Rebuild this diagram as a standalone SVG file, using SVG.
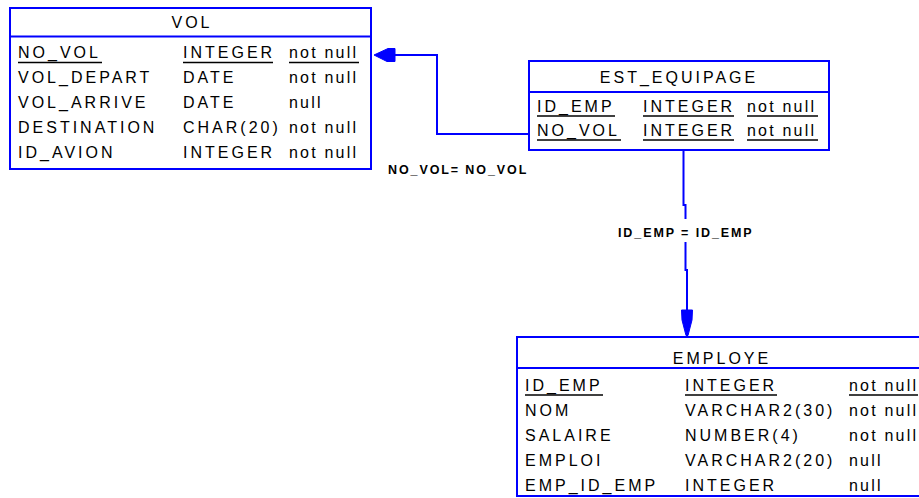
<svg xmlns="http://www.w3.org/2000/svg" width="919" height="498" viewBox="0 0 919 498">
<style>
.box{fill:#ffffff;stroke:#0000ff;stroke-width:2}
.sep{stroke:#0000ff;stroke-width:2}
.t{font-family:"Liberation Sans",Arial,sans-serif;font-size:16px;letter-spacing:3px;fill:#000000}
.n{letter-spacing:2.2px}
.h{text-anchor:middle}
.u{stroke:#000000;stroke-width:1.5}
.c{fill:none;stroke:#0000ff;stroke-width:2}
.a{fill:#0000ff;stroke:#0000ff;stroke-width:1}
.l{font-family:"Liberation Sans",Arial,sans-serif;font-size:12.5px;font-weight:bold;letter-spacing:1.9px;fill:#000000}
</style>
<rect width="919" height="498" fill="#ffffff"/>
<g id="connectors">
  <path class="c" d="M529,134 H437 V55 H393"/>
  <polygon class="a" points="374,55 388,48.5 395,48.5 395,61.5 387,61.5"/>
  <text class="l" x="388" y="174">NO_VOL= NO_VOL</text>
  <path class="c" d="M683.5,150 V205 H685.5 V219 M685.5,242 V270 H687 V312"/>
  <polygon class="a" points="681.5,310 692.5,310 692,320 688,335.5 686,335.5 682,320"/>
  <text class="l" x="618" y="237">ID_EMP = ID_EMP</text>
</g>
<g id="VOL">
  <rect class="box" x="10" y="8" width="361" height="161"/>
  <line class="sep" x1="10" y1="36.5" x2="371" y2="36.5"/>
  <text class="t h" x="192" y="28">VOL</text>
  <text class="t" x="18" y="58">NO_VOL</text>
  <text class="t" x="183" y="58">INTEGER</text>
  <text class="t n" x="289" y="58">not null</text>
  <line class="u" x1="18" y1="62.5" x2="102" y2="62.5"/>
  <line class="u" x1="183" y1="62.5" x2="273" y2="62.5"/>
  <line class="u" x1="289" y1="62.5" x2="359" y2="62.5"/>
  <text class="t" x="18" y="83">VOL_DEPART</text>
  <text class="t" x="183" y="83">DATE</text>
  <text class="t n" x="289" y="83">not null</text>
  <text class="t" x="18" y="108">VOL_ARRIVE</text>
  <text class="t" x="183" y="108">DATE</text>
  <text class="t n" x="289" y="108">null</text>
  <text class="t" x="18" y="133">DESTINATION</text>
  <text class="t" x="183" y="133">CHAR(20)</text>
  <text class="t n" x="289" y="133">not null</text>
  <text class="t" x="18" y="158">ID_AVION</text>
  <text class="t" x="183" y="158">INTEGER</text>
  <text class="t n" x="289" y="158">not null</text>
</g>
<g id="EST_EQUIPAGE">
  <rect class="box" x="529" y="61" width="300" height="89"/>
  <line class="sep" x1="529" y1="92" x2="829" y2="92"/>
  <text class="t h" x="679" y="83">EST_EQUIPAGE</text>
  <text class="t" x="537" y="112">ID_EMP</text>
  <text class="t" x="643" y="112">INTEGER</text>
  <text class="t n" x="747" y="112">not null</text>
  <line class="u" x1="537" y1="116" x2="615" y2="116"/>
  <line class="u" x1="643" y1="116" x2="734" y2="116"/>
  <line class="u" x1="747" y1="116" x2="818" y2="116"/>
  <text class="t" x="537" y="136">NO_VOL</text>
  <text class="t" x="643" y="136">INTEGER</text>
  <text class="t n" x="747" y="136">not null</text>
  <line class="u" x1="537" y1="140" x2="621" y2="140"/>
  <line class="u" x1="643" y1="140" x2="734" y2="140"/>
  <line class="u" x1="747" y1="140" x2="818" y2="140"/>
</g>
<g id="EMPLOYE">
  <rect class="box" x="517" y="337" width="410" height="159"/>
  <line class="sep" x1="517" y1="368" x2="927" y2="368"/>
  <text class="t h" x="722" y="364">EMPLOYE</text>
  <text class="t" x="525" y="391">ID_EMP</text>
  <text class="t" x="685" y="391">INTEGER</text>
  <text class="t n" x="849" y="391">not null</text>
  <line class="u" x1="525" y1="395" x2="603" y2="395"/>
  <line class="u" x1="685" y1="395" x2="777" y2="395"/>
  <line class="u" x1="849" y1="395" x2="918" y2="395"/>
  <text class="t" x="525" y="416">NOM</text>
  <text class="t" x="685" y="416">VARCHAR2(30)</text>
  <text class="t n" x="849" y="416">not null</text>
  <text class="t" x="525" y="441">SALAIRE</text>
  <text class="t" x="685" y="441">NUMBER(4)</text>
  <text class="t n" x="849" y="441">not null</text>
  <text class="t" x="525" y="466">EMPLOI</text>
  <text class="t" x="685" y="466">VARCHAR2(20)</text>
  <text class="t n" x="849" y="466">null</text>
  <text class="t" x="525" y="491">EMP_ID_EMP</text>
  <text class="t" x="685" y="491">INTEGER</text>
  <text class="t n" x="849" y="491">null</text>
</g>
</svg>
